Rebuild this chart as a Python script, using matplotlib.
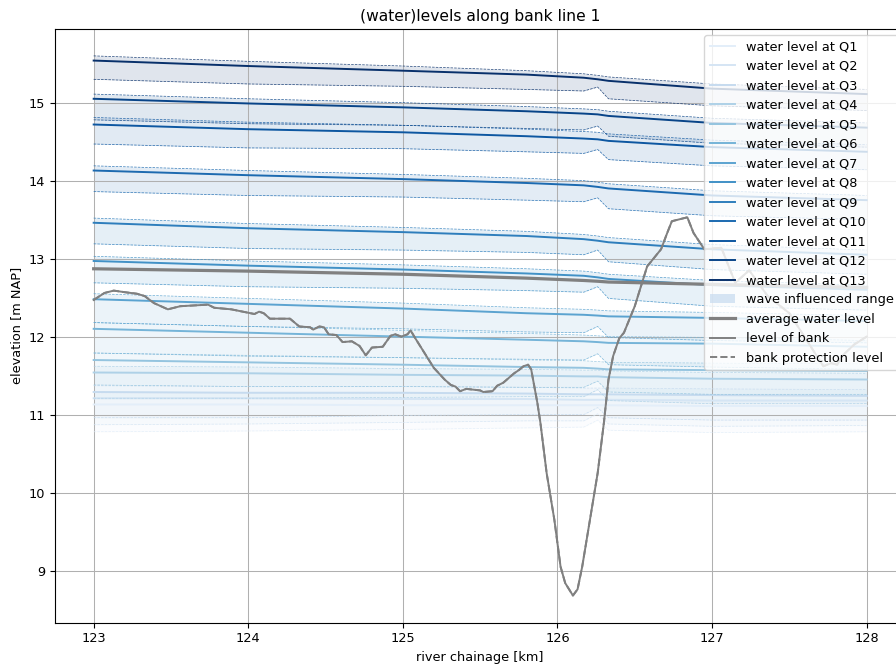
import numpy as np
import matplotlib
matplotlib.use("Agg")
import matplotlib.pyplot as plt
from matplotlib.patches import Patch

# chainage points where the water levels were read [km]
wl_km = [123.0, 124.0, 125.0, 125.8, 126.17, 126.26, 126.33, 127.0, 128.0]

# mean water level per discharge Q1..Q13 [m NAP]
wl_mean = [
    [11.13, 11.13, 11.12, 11.12, 11.12, 11.12, 11.12, 11.11, 11.11],
    [11.21, 11.21, 11.20, 11.20, 11.19, 11.19, 11.19, 11.18, 11.18],
    [11.29, 11.28, 11.28, 11.27, 11.26, 11.26, 11.26, 11.25, 11.24],
    [11.54, 11.53, 11.51, 11.50, 11.49, 11.49, 11.48, 11.46, 11.45],
    [11.70, 11.67, 11.64, 11.61, 11.60, 11.59, 11.58, 11.57, 11.56],
    [12.10, 12.05, 12.00, 11.96, 11.94, 11.93, 11.92, 11.91, 11.87],
    [12.48, 12.42, 12.36, 12.30, 12.28, 12.27, 12.26, 12.24, 12.20],
    [12.97, 12.91, 12.86, 12.81, 12.78, 12.76, 12.74, 12.66, 12.60],
    [13.46, 13.39, 13.34, 13.29, 13.25, 13.23, 13.21, 13.12, 13.05],
    [14.13, 14.07, 14.02, 13.97, 13.94, 13.92, 13.90, 13.81, 13.75],
    [14.72, 14.66, 14.62, 14.57, 14.54, 14.53, 14.51, 14.43, 14.37],
    [15.05, 14.99, 14.94, 14.89, 14.86, 14.85, 14.83, 14.74, 14.68],
    [15.54, 15.47, 15.41, 15.36, 15.32, 15.30, 15.28, 15.18, 15.11],
]

# upper limit of wave influenced range
wl_upper = [
    [11.20, 11.20, 11.19, 11.19, 11.19, 11.19, 11.19, 11.18, 11.18],
    [11.28, 11.28, 11.27, 11.27, 11.26, 11.26, 11.26, 11.25, 11.25],
    [11.37, 11.36, 11.36, 11.35, 11.34, 11.34, 11.34, 11.33, 11.32],
    [11.62, 11.61, 11.59, 11.58, 11.57, 11.57, 11.56, 11.54, 11.53],
    [11.79, 11.76, 11.73, 11.70, 11.69, 11.68, 11.67, 11.66, 11.65],
    [12.18, 12.13, 12.08, 12.04, 12.02, 12.01, 12.00, 11.99, 11.95],
    [12.55, 12.49, 12.43, 12.37, 12.35, 12.34, 12.33, 12.31, 12.27],
    [13.03, 12.97, 12.92, 12.87, 12.84, 12.82, 12.80, 12.72, 12.66],
    [13.52, 13.45, 13.40, 13.35, 13.31, 13.29, 13.27, 13.18, 13.11],
    [14.19, 14.13, 14.08, 14.03, 14.00, 13.98, 13.96, 13.87, 13.81],
    [14.81, 14.75, 14.71, 14.66, 14.63, 14.62, 14.60, 14.52, 14.46],
    [15.11, 15.05, 15.00, 14.95, 14.92, 14.91, 14.89, 14.80, 14.74],
    [15.60, 15.53, 15.47, 15.41, 15.37, 15.35, 15.33, 15.24, 15.17],
]

# lower limit of wave influenced range (peak near km 126.26)
wl_lower = [
    [10.78, 10.79, 10.81, 10.83, 10.84, 10.93, 10.80, 10.77, 10.78],
    [10.87, 10.88, 10.90, 10.92, 10.92, 11.01, 10.88, 10.85, 10.86],
    [10.96, 10.96, 10.99, 11.00, 11.00, 11.09, 10.96, 10.93, 10.93],
    [11.21, 11.21, 11.22, 11.23, 11.23, 11.32, 11.18, 11.14, 11.14],
    [11.38, 11.36, 11.36, 11.35, 11.35, 11.43, 11.29, 11.26, 11.26],
    [11.79, 11.75, 11.73, 11.71, 11.70, 11.78, 11.64, 11.61, 11.58],
    [12.18, 12.13, 12.10, 12.06, 12.05, 12.13, 11.99, 11.95, 11.92],
    [12.69, 12.64, 12.62, 12.59, 12.57, 12.64, 12.49, 12.39, 12.34],
    [13.19, 13.13, 13.11, 13.08, 13.05, 13.11, 12.96, 12.86, 12.80],
    [13.86, 13.81, 13.79, 13.75, 13.73, 13.78, 13.64, 13.55, 13.50],
    [14.47, 14.42, 14.41, 14.37, 14.35, 14.40, 14.27, 14.19, 14.14],
    [14.78, 14.73, 14.71, 14.67, 14.65, 14.70, 14.57, 14.48, 14.43],
    [15.30, 15.24, 15.21, 15.17, 15.15, 15.20, 15.05, 14.96, 14.90],
]

avg_level = [12.87, 12.84, 12.80, 12.75, 12.72, 12.71, 12.70, 12.67, 12.63]

# level of bank
bank_km = [123.00, 123.07, 123.13, 123.20, 123.28, 123.33, 123.39, 123.48, 123.56,
           123.74, 123.78, 123.89, 124.04, 124.07, 124.10, 124.14, 124.27, 124.33,
           124.40, 124.42, 124.46, 124.49, 124.52, 124.57, 124.61, 124.67, 124.72,
           124.76, 124.80, 124.87, 124.92, 124.95, 124.99, 125.03, 125.05, 125.08,
           125.14, 125.20, 125.27, 125.31, 125.34, 125.37, 125.41, 125.50, 125.52,
           125.58, 125.61, 125.65, 125.72, 125.75, 125.78, 125.81, 125.83, 125.87,
           125.89, 125.93, 125.98, 126.02, 126.05, 126.10, 126.13, 126.16, 126.21,
           126.26, 126.30, 126.33, 126.36, 126.40, 126.43, 126.50, 126.58, 126.67,
           126.71, 126.74, 126.84, 126.88, 126.95, 127.06, 127.15, 127.24, 127.36,
           127.50, 127.72, 127.77, 127.81, 127.84, 127.92, 128.00]
bank_level = [12.47, 12.56, 12.59, 12.57, 12.55, 12.52, 12.43, 12.35, 12.39,
              12.41, 12.37, 12.35, 12.29, 12.32, 12.30, 12.23, 12.23, 12.13,
              12.12, 12.09, 12.13, 12.12, 12.03, 12.02, 11.93, 11.94, 11.88,
              11.76, 11.86, 11.87, 12.01, 12.03, 12.00, 12.03, 12.08, 11.98,
              11.79, 11.60, 11.45, 11.38, 11.36, 11.30, 11.33, 11.31, 11.29,
              11.30, 11.37, 11.41, 11.53, 11.57, 11.62, 11.64, 11.58, 11.15,
              10.89, 10.25, 9.65, 9.05, 8.84, 8.68, 8.76, 9.05, 9.65,
              10.25, 10.89, 11.45, 11.75, 11.98, 12.05, 12.39, 12.90, 13.12,
              13.33, 13.48, 13.53, 13.33, 13.12, 13.14, 12.69, 12.85, 12.52,
              12.30, 11.62, 11.66, 11.64, 11.75, 11.90, 12.00]

labels = [f"water level at Q{i + 1}" for i in range(len(wl_mean))]
colors = plt.cm.Blues(np.linspace(0.1, 1.0, len(wl_mean)))

plt.rcParams["font.size"] = 9.3
plt.rcParams["axes.titlesize"] = 11.2

fig = plt.figure(figsize=(8.96, 6.66), dpi=100)
ax = fig.add_axes([0.0614, 0.0653, 0.949, 0.8913])

handles = []
for i in range(len(wl_mean)):
    h, = ax.plot(wl_km, wl_mean[i], color=colors[i], linewidth=1.4)
    handles.append(h)
    ax.plot(wl_km, wl_upper[i], color=colors[i], linewidth=0.5, linestyle="--", alpha=0.9)
    ax.plot(wl_km, wl_lower[i], color=colors[i], linewidth=0.5, linestyle="--", alpha=0.9)
    ax.fill_between(wl_km, wl_lower[i], wl_upper[i], color=colors[i], alpha=0.12,
                    linewidth=0)

h_avg, = ax.plot(wl_km, avg_level, color="gray", linewidth=2.3)
h_prot, = ax.plot(bank_km, bank_level, color="gray", linewidth=1.4, linestyle="--")
h_bank, = ax.plot(bank_km, bank_level, color="gray", linewidth=1.4)

# legend
fill_proxy = Patch(facecolor="#c6dbef", alpha=0.7)
ax.legend(handles + [fill_proxy, h_avg, h_bank, h_prot],
          labels + ["wave influenced range", "average water level", "level of bank",
                    "bank protection level"],
          loc="upper right")

ax.set_title("(water)levels along bank line 1")
ax.set_xlabel("river chainage [km]")
ax.set_ylabel("elevation [m NAP]")
ax.grid(True, linewidth=0.75)

fig.savefig("out.png", dpi=100)
